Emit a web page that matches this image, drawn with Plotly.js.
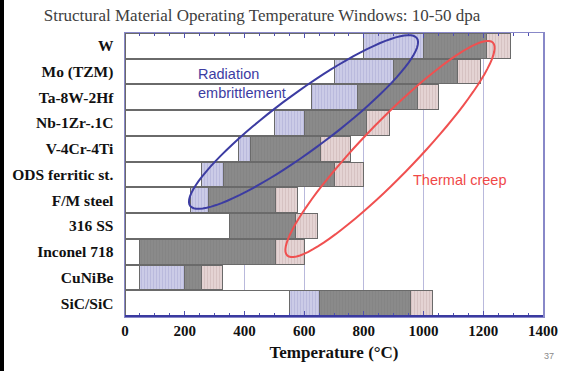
<!DOCTYPE html>
<html>
<head>
<meta charset="utf-8">
<script src="https://cdn.plot.ly/plotly-3.0.1.min.js"></script>
<style>
  html, body { margin: 0; padding: 0; background: #fff; }
  #wrap { position: relative; width: 582px; height: 371px; }
  #chart { width: 582px; height: 371px; }
  #edge { position: absolute; left: 0; top: 0; width: 4px; height: 371px; background: #000; }
</style>
</head>
<body>
<div id="wrap">
  <div id="chart"></div>
  <div id="edge"></div>
</div>
<script>
// Operating temperature windows (°C) for structural materials, 10-50 dpa
const materials = ['W', 'Mo (TZM)', 'Ta-8W-2Hf', 'Nb-1Zr-.1C', 'V-4Cr-4Ti',
  'ODS ferritic st.', 'F/M steel', '316 SS', 'Inconel 718', 'CuNiBe', 'SiC/SiC'];
// start of the radiation-embrittlement band
const embrittleStart = [800, 700, 625, 500, 380, 255, 220, 350, 50, 50, 550];
// lower limit of the operating window
const windowLow = [1000, 900, 780, 600, 420, 330, 280, 350, 50, 200, 650];
// upper limit of the operating window (thermal creep begins)
const windowHigh = [1210, 1115, 980, 810, 655, 700, 505, 570, 505, 255, 955];
// end of the thermal-creep band
const creepEnd = [1290, 1190, 1050, 885, 755, 800, 578, 645, 600, 325, 1030];

const xTicks = [0, 200, 400, 600, 800, 1000, 1200, 1400];

const W = 582, H = 371;
const M = { l: 125, r: 39, t: 33, b: 55 };
const pw = W - M.l - M.r, ph = H - M.t - M.b;

const serif = 'Liberation Serif, Times New Roman, serif';
const sans = 'Liberation Sans, Arial, sans-serif';
const edge = { color: '#6a6a6a', width: 1 };

function seg(name, widths, color, fg, sol) {
  const marker = { color: color, line: edge };
  if (fg) marker.pattern = { shape: '|', bgcolor: color, fgcolor: fg, size: 3, solidity: sol };
  return {
    type: 'bar', orientation: 'h', name: name,
    y: materials, x: widths, marker: marker,
    hoverinfo: 'skip', showlegend: false
  };
}

const traces = [
  seg('below', embrittleStart, '#ffffff'),
  seg('embrittlement', embrittleStart.map((v, i) => windowLow[i] - v), '#cbcbe7', '#b4b4da', 0.25),
  seg('window', windowLow.map((v, i) => windowHigh[i] - v), '#8a8a8a', '#818181', 0.2),
  seg('creep', windowHigh.map((v, i) => creepEnd[i] - v), '#e4d3d3', '#d2bcbc', 0.25)
];

// rotated ellipse outline in paper coordinates, centre given in page pixels
function ellipse(cx, cy, a, b, deg) {
  const t = deg * Math.PI / 180, pts = [];
  for (let i = 0; i <= 90; i++) {
    const s = i / 90 * 2 * Math.PI;
    const ex = a * Math.cos(s), ey = b * Math.sin(s);
    const x = cx + ex * Math.cos(t) - ey * Math.sin(t);
    const y = cy - (ex * Math.sin(t) + ey * Math.cos(t));
    pts.push(((x - M.l) / pw).toFixed(4) + ',' + (1 - (y - M.t) / ph).toFixed(4));
  }
  return 'M' + pts.join('L') + 'Z';
}

const layout = {
  width: W, height: H,
  margin: M,
  paper_bgcolor: '#fff', plot_bgcolor: '#fff',
  barmode: 'stack', bargap: 0.04,
  title: {
    text: 'Structural Material Operating Temperature Windows: 10-50 dpa',
    font: { family: serif, size: 17, color: '#404040' },
    x: 262 / W, xanchor: 'center', y: 1 - 15 / H, yanchor: 'middle'
  },
  xaxis: {
    range: [0, 1400], tickvals: xTicks, ticktext: xTicks.map(String),
    ticks: 'inside', ticklen: 5, tickcolor: '#5050b0', tickwidth: 1,
    minor: { dtick: 50, ticks: 'inside', ticklen: 3, tickcolor: '#5050b0', showgrid: false },
    showline: true, linecolor: '#8888c8', linewidth: 1.5, mirror: 'allticks',
    showgrid: true, gridcolor: '#b9b9dc', gridwidth: 1,
    zeroline: false,
    tickfont: { family: serif, size: 15, color: '#111', weight: 'bold' },
    title: { text: 'Temperature (°C)', standoff: 8,
      font: { family: serif, size: 17, color: '#111', weight: 'bold' } }
  },
  yaxis: {
    type: 'category', categoryorder: 'array', categoryarray: materials,
    range: [materials.length - 0.5, -0.5],
    showline: true, linecolor: '#8888c8', linewidth: 1.5, mirror: true,
    showgrid: false, zeroline: false, ticks: '', ticklabelstandoff: 7,
    tickfont: { family: serif, size: 15.5, color: '#111', weight: 'bold' }
  },
  shapes: [
    { type: 'line', xref: 'paper', yref: 'paper', x0: 0, x1: 1, y0: 0, y1: 0,
      line: { color: '#3a3aa0', width: 2 } },
    { type: 'path', xref: 'paper', yref: 'paper', path: ellipse(303.5, 122, 141, 28, 36.5),
      line: { color: '#3c3ca2', width: 2 } },
    { type: 'path', xref: 'paper', yref: 'paper', path: ellipse(390, 149, 148, 27, 46),
      line: { color: '#f05050', width: 2 } }
  ],
  annotations: [
    { xref: 'paper', yref: 'paper', x: (196 - M.l) / pw, y: 1 - (84 - M.t) / ph,
      xanchor: 'left', yanchor: 'middle', align: 'left', showarrow: false,
      text: 'Radiation<br>embrittlement',
      font: { family: sans, size: 14.5, color: '#3c3ca2' } },
    { xref: 'paper', yref: 'paper', x: (411 - M.l) / pw, y: 1 - (180 - M.t) / ph,
      xanchor: 'left', yanchor: 'middle', showarrow: false,
      text: 'Thermal creep',
      font: { family: sans, size: 14.5, color: '#f04848' } },
    { xref: 'paper', yref: 'paper', x: (549 - M.l) / pw, y: (H - M.b - 356) / ph,
      xanchor: 'center', yanchor: 'middle', showarrow: false,
      text: '37', font: { family: sans, size: 9, color: '#8a8a8a' } }
  ]
};

Plotly.newPlot('chart', traces, layout, { displayModeBar: false, staticPlot: true });
</script>
</body>
</html>
